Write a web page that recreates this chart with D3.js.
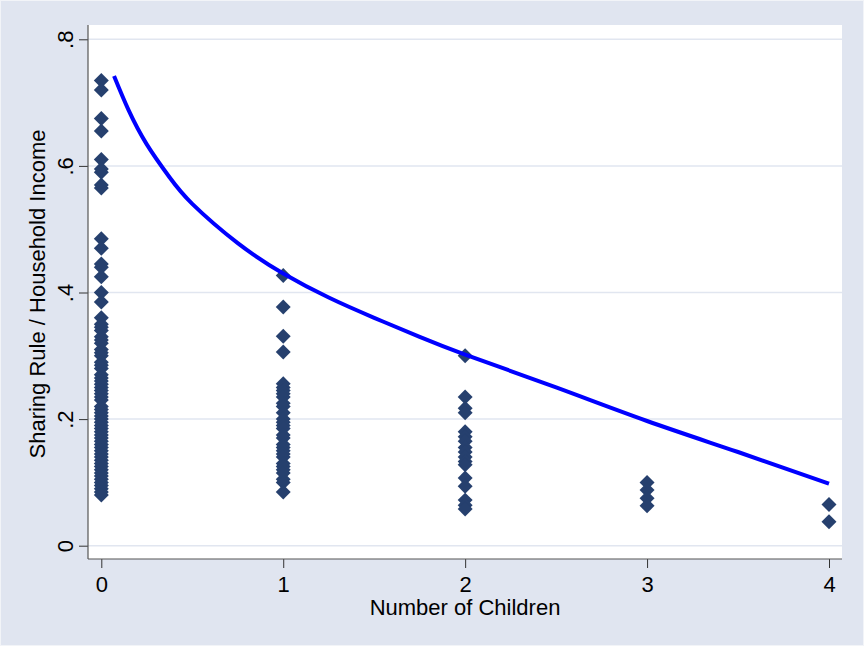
<!DOCTYPE html>
<html>
<head>
<meta charset="utf-8">
<script src="https://cdn.jsdelivr.net/npm/d3@7"></script>
<style>
  body { margin: 0; background: #e0e5f0; }
  text { font-family: Arial, "Liberation Sans", sans-serif; fill: #000; }
</style>
</head>
<body>
<svg id="chart" width="864" height="646"></svg>
<script>
// observed points: number of children -> sharing rule share
const kids0 = [0.735, 0.72, 0.675, 0.655, 0.61, 0.595, 0.59, 0.57, 0.565, 0.485, 0.47, 0.445,
  0.44, 0.425, 0.40, 0.385, 0.36, 0.35, 0.345, 0.34, 0.33, 0.325, 0.32, 0.31, 0.305, 0.30, 0.29,
  0.285, 0.28, 0.27, 0.265, 0.26, 0.255, 0.25, 0.245, 0.24, 0.235, 0.23, 0.22, 0.215, 0.21,
  0.205, 0.20, 0.195, 0.19, 0.185, 0.18, 0.175, 0.17, 0.165, 0.16, 0.155, 0.15, 0.145, 0.14,
  0.135, 0.13, 0.125, 0.12, 0.115, 0.11, 0.105, 0.10, 0.095, 0.09, 0.085, 0.08];
const kids1 = [0.427, 0.377, 0.331, 0.306, 0.256, 0.25, 0.245, 0.24, 0.235, 0.225, 0.22, 0.21,
  0.20, 0.195, 0.19, 0.185, 0.175, 0.17, 0.16, 0.155, 0.15, 0.145, 0.14, 0.13, 0.125, 0.12,
  0.115, 0.105, 0.10, 0.085];
const kids2 = [0.30, 0.235, 0.217, 0.21, 0.18, 0.172, 0.165, 0.155, 0.148, 0.14, 0.133, 0.128,
  0.107, 0.094, 0.072, 0.064, 0.058];
const kids3 = [0.10, 0.088, 0.075, 0.063];
const kids4 = [0.065, 0.038];

// fitted curve
const fitX = [0.07, 0.15, 0.25, 0.375, 0.5, 0.75, 1, 1.25, 1.5, 1.75, 2, 2.5, 3, 3.5, 4];
const fitY = [0.742, 0.688, 0.634, 0.582, 0.54, 0.478, 0.43, 0.392, 0.36, 0.33, 0.302, 0.25, 0.197, 0.148, 0.098];

const xTicks = [0, 1, 2, 3, 4];
const yTicks = [0, 0.2, 0.4, 0.6, 0.8];
const yTickLabels = ['0', '.2', '.4', '.6', '.8'];

const svg = d3.select('#chart');
const W = 864, H = 646;
const plot = { left: 88, right: 842, top: 25, bottom: 559 };
const fontSize = '22px';

svg.append('rect').attr('x', 0.5).attr('y', 0.5).attr('width', W - 1).attr('height', H - 1)
  .attr('fill', '#e0e5f0').attr('stroke', '#f2f4f8');
svg.append('rect').attr('x', plot.left).attr('y', plot.top)
  .attr('width', plot.right - plot.left).attr('height', plot.bottom - plot.top)
  .attr('fill', '#fff');

const x = d3.scaleLinear().domain([0, 4]).range([101.3, 829]);
const y = d3.scaleLinear().domain([0, 0.8]).range([545.7, 39.3]);

// grid
svg.append('g').selectAll('line').data(yTicks).enter().append('line')
  .attr('x1', plot.left).attr('x2', plot.right)
  .attr('y1', d => y(d)).attr('y2', d => y(d))
  .attr('stroke', '#e1e6f0').attr('stroke-width', 1.5);

// y axis, labels turned like Stata does
const yAxis = d3.axisLeft(y).tickValues(yTicks).tickSize(9)
  .tickFormat((d, i) => yTickLabels[i]);
const gy = svg.append('g').attr('transform', 'translate(' + plot.left + ',0)').call(yAxis);
gy.select('.domain').remove();
gy.selectAll('.tick line').attr('stroke', '#333');
gy.selectAll('.tick text')
  .attr('transform', 'rotate(-90) translate(0,-15)')
  .attr('x', 0).attr('y', 0).attr('dy', 0)
  .attr('text-anchor', 'middle')
  .style('font-size', fontSize).style('font-family', 'Arial, "Liberation Sans", sans-serif');

// x axis
const xAxis = d3.axisBottom(x).tickValues(xTicks).tickSize(9).tickPadding(8).tickFormat(d3.format('d'));
const gx = svg.append('g').attr('transform', 'translate(0,' + plot.bottom + ')').call(xAxis);
gx.select('.domain').remove();
gx.selectAll('.tick line').attr('stroke', '#333');
gx.selectAll('.tick text').style('font-size', fontSize).style('font-family', 'Arial, "Liberation Sans", sans-serif');

// axis lines
svg.append('line').attr('x1', plot.left).attr('x2', plot.left).attr('y1', plot.top).attr('y2', plot.bottom)
  .attr('stroke', '#555').attr('stroke-width', 1.2);
svg.append('line').attr('x1', plot.left).attr('x2', plot.right).attr('y1', plot.bottom).attr('y2', plot.bottom)
  .attr('stroke', '#555').attr('stroke-width', 1.2);

// titles
svg.append('text').attr('x', 465).attr('y', 615).attr('text-anchor', 'middle')
  .style('font-size', fontSize).text('Number of Children');
svg.append('text').attr('transform', 'translate(45,294) rotate(-90)').attr('text-anchor', 'middle')
  .style('font-size', fontSize).text('Sharing Rule / Household Income');

// scatter
const groups = [kids0, kids1, kids2, kids3, kids4];
const points = [];
groups.forEach((vals, k) => vals.forEach(v => points.push({ k: k, v: v })));
const diamond = d3.symbol().type(d3.symbolSquare).size(112);
svg.append('g').selectAll('path').data(points).enter().append('path')
  .attr('d', diamond)
  .attr('transform', d => 'translate(' + x(d.k) + ',' + y(d.v) + ') rotate(45)')
  .attr('fill', '#26406e');

// fitted line
const line = d3.line().x(d => x(d[0])).y(d => y(d[1])).curve(d3.curveNatural);
svg.append('path').datum(d3.zip(fitX, fitY)).attr('d', line)
  .attr('fill', 'none').attr('stroke', '#0000ff').attr('stroke-width', 4);
</script>
</body>
</html>
